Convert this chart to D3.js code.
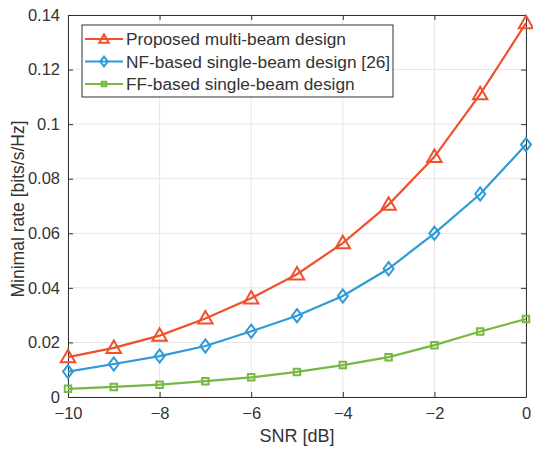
<!DOCTYPE html>
<html>
<head>
<meta charset="utf-8">
<script src="https://cdn.jsdelivr.net/npm/d3@7"></script>
<style>
  body { margin: 0; background: #fff; }
  svg text { font-family: "Liberation Sans", Arial, sans-serif; fill: #333; }
</style>
</head>
<body>
<div id="chart"></div>
<script>
// data
const snr = [-10, -9, -8, -7, -6, -5, -4, -3, -2, -1, 0];
const proposed = [0.0146, 0.0180, 0.0225, 0.0288, 0.0362, 0.0450, 0.0564, 0.0705, 0.0880, 0.1110, 0.1370];
const nfSingle = [0.0093, 0.0121, 0.0150, 0.0187, 0.0241, 0.0298, 0.0370, 0.0470, 0.0600, 0.0744, 0.0925];
const ffSingle = [0.0030, 0.0037, 0.0045, 0.0058, 0.0072, 0.0092, 0.0117, 0.0146, 0.0190, 0.0240, 0.0286];
const xTicks = [-10, -8, -6, -4, -2, 0];
const yTicks = [0, 0.02, 0.04, 0.06, 0.08, 0.1, 0.12, 0.14];
const seriesNames = ["Proposed multi-beam design", "NF-based single-beam design [26]", "FF-based single-beam design"];

const series = [
  {name: seriesNames[0], values: proposed, color: "#F0502A", marker: "triangle"},
  {name: seriesNames[1], values: nfSingle, color: "#2E9AD8", marker: "diamond"},
  {name: seriesNames[2], values: ffSingle, color: "#76B843", marker: "square"}
];

// set the dimensions and margins of the graph
const W = 533, H = 452;
const margin = {top: 15, right: 7, bottom: 55, left: 68},
    width = W - margin.left - margin.right,
    height = H - margin.top - margin.bottom;

const svg = d3.select("#chart")
  .append("svg")
    .attr("width", W)
    .attr("height", H)
  .append("g")
    .attr("transform", `translate(${margin.left},${margin.top})`);

const x = d3.scaleLinear().domain([-10, 0]).range([0, width]);
const y = d3.scaleLinear().domain([0, 0.14]).range([height, 0]);

// grid
svg.append("g")
  .selectAll("line")
  .data(xTicks)
  .join("line")
    .attr("x1", d => x(d)).attr("x2", d => x(d))
    .attr("y1", 0).attr("y2", height)
    .attr("stroke", "#E6E6E6").attr("stroke-width", 1);
svg.append("g")
  .selectAll("line")
  .data(yTicks)
  .join("line")
    .attr("x1", 0).attr("x2", width)
    .attr("y1", d => y(d)).attr("y2", d => y(d))
    .attr("stroke", "#E6E6E6").attr("stroke-width", 1);

// axes (matlab-like box with inner ticks)
const fmt = d => d3.format("~g")(d);
svg.append("g")
  .attr("transform", `translate(0,${height})`)
  .call(d3.axisBottom(x).tickValues(xTicks).tickFormat(fmt).tickSizeInner(-5).tickSizeOuter(0).tickPadding(10))
  .call(g => g.selectAll("text").attr("font-size", 16.5));
svg.append("g")
  .call(d3.axisLeft(y).tickValues(yTicks).tickFormat(fmt).tickSizeInner(-5).tickSizeOuter(0).tickPadding(8))
  .call(g => g.selectAll("text").attr("font-size", 16.5));
svg.append("g")
  .call(d3.axisTop(x).tickValues(xTicks).tickFormat("").tickSizeInner(-5).tickSizeOuter(0));
svg.append("g")
  .attr("transform", `translate(${width},0)`)
  .call(d3.axisRight(y).tickValues(yTicks).tickFormat("").tickSizeInner(-5).tickSizeOuter(0));
svg.selectAll(".domain").attr("stroke", "#333");
svg.selectAll(".tick line").attr("stroke", "#333");

// markers
const symbolOf = {
  triangle: d3.symbol().type(d3.symbolTriangle).size(90),
  diamond: d3.symbol().type(d3.symbolDiamond).size(55),
  square: d3.symbol().type(d3.symbolSquare).size(42)
};
const smallSymbolOf = {
  triangle: d3.symbol().type(d3.symbolTriangle).size(40),
  diamond: d3.symbol().type(d3.symbolDiamond).size(30),
  square: d3.symbol().type(d3.symbolSquare).size(22)
};
const markerTransform = (m, px, py) =>
  m === "diamond" ? `translate(${px},${py}) scale(1.25,0.95)` : `translate(${px},${py})`;

const line = d3.line().x((d, i) => x(snr[i])).y(d => y(d));

series.forEach(s => {
  svg.append("path")
    .datum(s.values)
    .attr("fill", "none")
    .attr("stroke", s.color)
    .attr("stroke-width", 2.2)
    .attr("d", line);
  svg.append("g")
    .selectAll("path")
    .data(s.values)
    .join("path")
      .attr("d", symbolOf[s.marker])
      .attr("transform", (d, i) => markerTransform(s.marker, x(snr[i]), y(d) + (s.marker === "triangle" ? 1 : 0)))
      .attr("fill", "none")
      .attr("stroke", s.color)
      .attr("stroke-width", 2)
      .attr("vector-effect", "non-scaling-stroke");
});

// legend
const lg = svg.append("g").attr("transform", "translate(14,10)");
lg.append("rect")
  .attr("width", 311).attr("height", 72)
  .attr("fill", "#fff").attr("stroke", "#333").attr("stroke-width", 1);
series.forEach((s, i) => {
  const ly = 14 + i * 22.5;
  lg.append("line")
    .attr("x1", 3).attr("x2", 41).attr("y1", ly).attr("y2", ly)
    .attr("stroke", s.color).attr("stroke-width", 2.2);
  lg.append("path")
    .attr("d", smallSymbolOf[s.marker])
    .attr("transform", markerTransform(s.marker, 22, ly + (s.marker === "triangle" ? 1 : 0)))
    .attr("fill", "none").attr("stroke", s.color).attr("stroke-width", 2)
    .attr("vector-effect", "non-scaling-stroke");
  lg.append("text")
    .attr("x", 44).attr("y", ly + 6)
    .attr("font-size", 17.3)
    .text(s.name);
});

// axis labels
svg.append("text")
  .attr("x", width / 2).attr("y", height + 45)
  .attr("text-anchor", "middle")
  .attr("font-size", 18)
  .text("SNR [dB]");
svg.append("text")
  .attr("transform", `translate(-44,${height / 2 + 3}) rotate(-90)`)
  .attr("text-anchor", "middle")
  .attr("font-size", 17.5)
  .text("Minimal rate [bits/s/Hz]");
</script>
</body>
</html>
